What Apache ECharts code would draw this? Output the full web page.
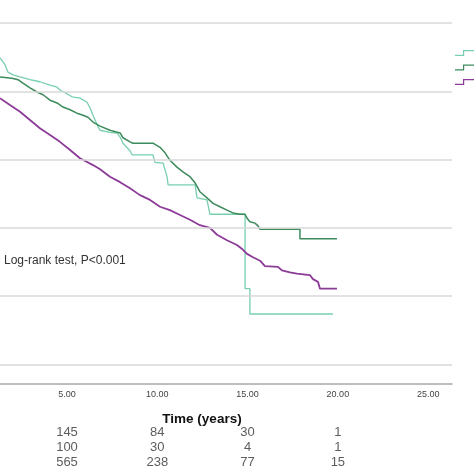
<!DOCTYPE html>
<html><head><meta charset="utf-8">
<script src="https://cdn.jsdelivr.net/npm/echarts@6/dist/echarts.min.js"></script>
<style>html,body{margin:0;padding:0;background:#fff}#c{width:474px;height:474px}</style>
</head><body><div id="c"></div>
<script>
// ---- data ----
const groupNames = ['Group 1', 'Group 2', 'Group 3'];
const tealCurve = [[1.29,0.949],[1.57,0.939],[1.73,0.928],[2.01,0.924],[2.40,0.921],[2.95,0.917],[3.50,0.914],[4.06,0.909],[4.45,0.906],[4.61,0.902],[4.89,0.898],[5.28,0.892],[5.72,0.890],[6.11,0.884],[6.27,0.876],[6.44,0.865],[6.72,0.848],[6.83,0.843],[7.38,0.840],[7.77,0.839],[7.94,0.833],[8.10,0.824],[8.49,0.813],[8.60,0.807],[9.76,0.807],[9.87,0.796],[10.32,0.795],[10.54,0.775],[10.60,0.763],[12.09,0.763],[12.20,0.744],[12.75,0.741],[12.92,0.720],[14.86,0.720],[14.86,0.611],[15.13,0.611],[15.13,0.574],[19.73,0.574]];
const greenCurve = [[1.29,0.921],[1.95,0.919],[2.29,0.917],[2.56,0.912],[2.95,0.905],[3.34,0.899],[3.67,0.895],[4.06,0.887],[4.45,0.883],[4.78,0.877],[5.17,0.873],[5.55,0.868],[5.89,0.865],[6.16,0.862],[6.44,0.855],[6.83,0.849],[7.38,0.843],[7.94,0.839],[8.10,0.832],[8.49,0.826],[8.65,0.824],[9.76,0.824],[10.15,0.818],[10.43,0.810],[10.70,0.799],[11.09,0.789],[11.42,0.782],[11.81,0.775],[12.09,0.766],[12.36,0.753],[12.75,0.744],[13.09,0.736],[13.47,0.731],[13.86,0.726],[14.19,0.722],[14.58,0.720],[14.86,0.720],[14.97,0.714],[15.13,0.709],[15.41,0.707],[15.58,0.703],[15.69,0.698],[17.90,0.698],[17.90,0.684],[19.95,0.684]];
const purpleCurve = [[1.29,0.890],[1.84,0.880],[2.40,0.870],[2.95,0.858],[3.50,0.846],[4.06,0.836],[4.61,0.826],[5.17,0.814],[5.72,0.802],[6.44,0.792],[6.83,0.786],[7.38,0.775],[7.94,0.767],[8.49,0.758],[9.04,0.748],[9.60,0.741],[10.15,0.731],[10.70,0.726],[11.26,0.719],[11.81,0.712],[12.36,0.704],[12.92,0.700],[13.31,0.690],[13.86,0.682],[14.41,0.675],[14.75,0.668],[14.97,0.662],[15.30,0.657],[15.69,0.652],[15.96,0.644],[16.68,0.643],[16.90,0.638],[17.35,0.635],[17.73,0.633],[18.45,0.631],[18.62,0.625],[18.90,0.621],[19.01,0.611],[19.95,0.611]];
const gridValues = [0.5, 0.6, 0.7, 0.8, 0.9, 1.0];
const xTicks = [5, 10, 15, 20, 25];
const riskTimes = [5, 10, 15, 20];
const riskRows = [[145, 84, 30, 1], [100, 30, 4, 1], [565, 238, 77, 15]];
const annotation = 'Log-rank test, P<0.001';
const xTitle = 'Time (years)';

// ---- chart ----
const FONT = '"Liberation Sans", Arial, sans-serif';
const colors = ['#78cfae', '#3d8b5c', '#8d3b98'];
const X_MIN = 1.29, X_MAX = 26.32;
const chart = echarts.init(document.getElementById('c'), null, {renderer: 'canvas'});
const riskData = [];
riskRows.forEach((row, r) => row.forEach((v, c) => riskData.push([riskTimes[c], groupNames[r], v])));
const stepIcon = 'path://M0,4.8 L8,4.8 L8,0 L24,0 L24,1.2 L9.2,1.2 L9.2,6 L0,6 Z';

chart.setOption({
  backgroundColor: '#fff',
  animation: false,
  textStyle: {fontFamily: FONT},
  title: {
    text: annotation, left: 4, top: 255, padding: 0,
    textStyle: {fontSize: 12, fontWeight: 'normal', color: '#333', fontFamily: FONT}
  },
  legend: {
    data: groupNames.map(n => ({name: n, icon: stepIcon})),
    orient: 'vertical', left: 455, top: 50, padding: 0,
    itemWidth: 24, itemHeight: 6, itemGap: 8.5,
    formatter: () => '',
    textStyle: {fontSize: 6, lineHeight: 6},
    selectedMode: false
  },
  grid: [
    {left: 0, right: 22, top: 0, bottom: 90.7},
    {left: 0, right: 22, top: 424.5, height: 46}
  ],
  xAxis: [
    {
      type: 'value', gridIndex: 0, min: X_MIN, max: X_MAX,
      axisLine: {show: true, lineStyle: {color: '#a8a8a8', width: 1.5}},
      axisTick: {show: false}, splitLine: {show: false},
      axisLabel: {
        customValues: xTicks, margin: 7,
        fontSize: 9, color: '#444', fontFamily: FONT,
        formatter: v => Number(v).toFixed(2)
      },
      name: xTitle, nameLocation: 'middle', nameGap: 29,
      nameTextStyle: {fontSize: 13.5, fontWeight: 'bold', color: '#111', fontFamily: FONT, padding: [0, 48, 0, 0]}
    },
    {
      type: 'value', gridIndex: 1, min: X_MIN, max: X_MAX,
      show: false
    }
  ],
  yAxis: [
    {
      type: 'value', gridIndex: 0, min: 0.4725, max: 1.0337,
      axisLine: {show: false}, axisTick: {show: false},
      axisLabel: {show: false}, splitLine: {show: false}
    },
    {
      type: 'category', gridIndex: 1, data: groupNames, inverse: true, show: false
    }
  ],
  series: [
    {
      type: 'line', data: [], z: 1, silent: true,
      markLine: {
        silent: true, symbol: 'none', label: {show: false},
        lineStyle: {color: '#d8d8d8', width: 1.5, type: 'solid'},
        emphasis: {disabled: true},
        data: gridValues.map(v => ({yAxis: v}))
      }
    },
    {
      name: groupNames[0], type: 'line', data: tealCurve, showSymbol: false, z: 3,
      lineStyle: {color: colors[0], width: 1.3}, itemStyle: {color: colors[0]}
    },
    {
      name: groupNames[2], type: 'line', data: purpleCurve, showSymbol: false, z: 3,
      lineStyle: {color: colors[2], width: 1.8}, itemStyle: {color: colors[2]}
    },
    {
      name: groupNames[1], type: 'line', data: greenCurve, showSymbol: false, z: 4,
      lineStyle: {color: colors[1], width: 1.5}, itemStyle: {color: colors[1]}
    },
    {
      type: 'scatter', xAxisIndex: 1, yAxisIndex: 1, data: riskData,
      symbolSize: 1, itemStyle: {color: 'rgba(0,0,0,0)'}, silent: true,
      label: {
        show: true, position: 'inside', formatter: p => String(p.value[2]),
        fontSize: 13, color: '#333', fontFamily: FONT
      }
    }
  ]
});
</script>
</body></html>
